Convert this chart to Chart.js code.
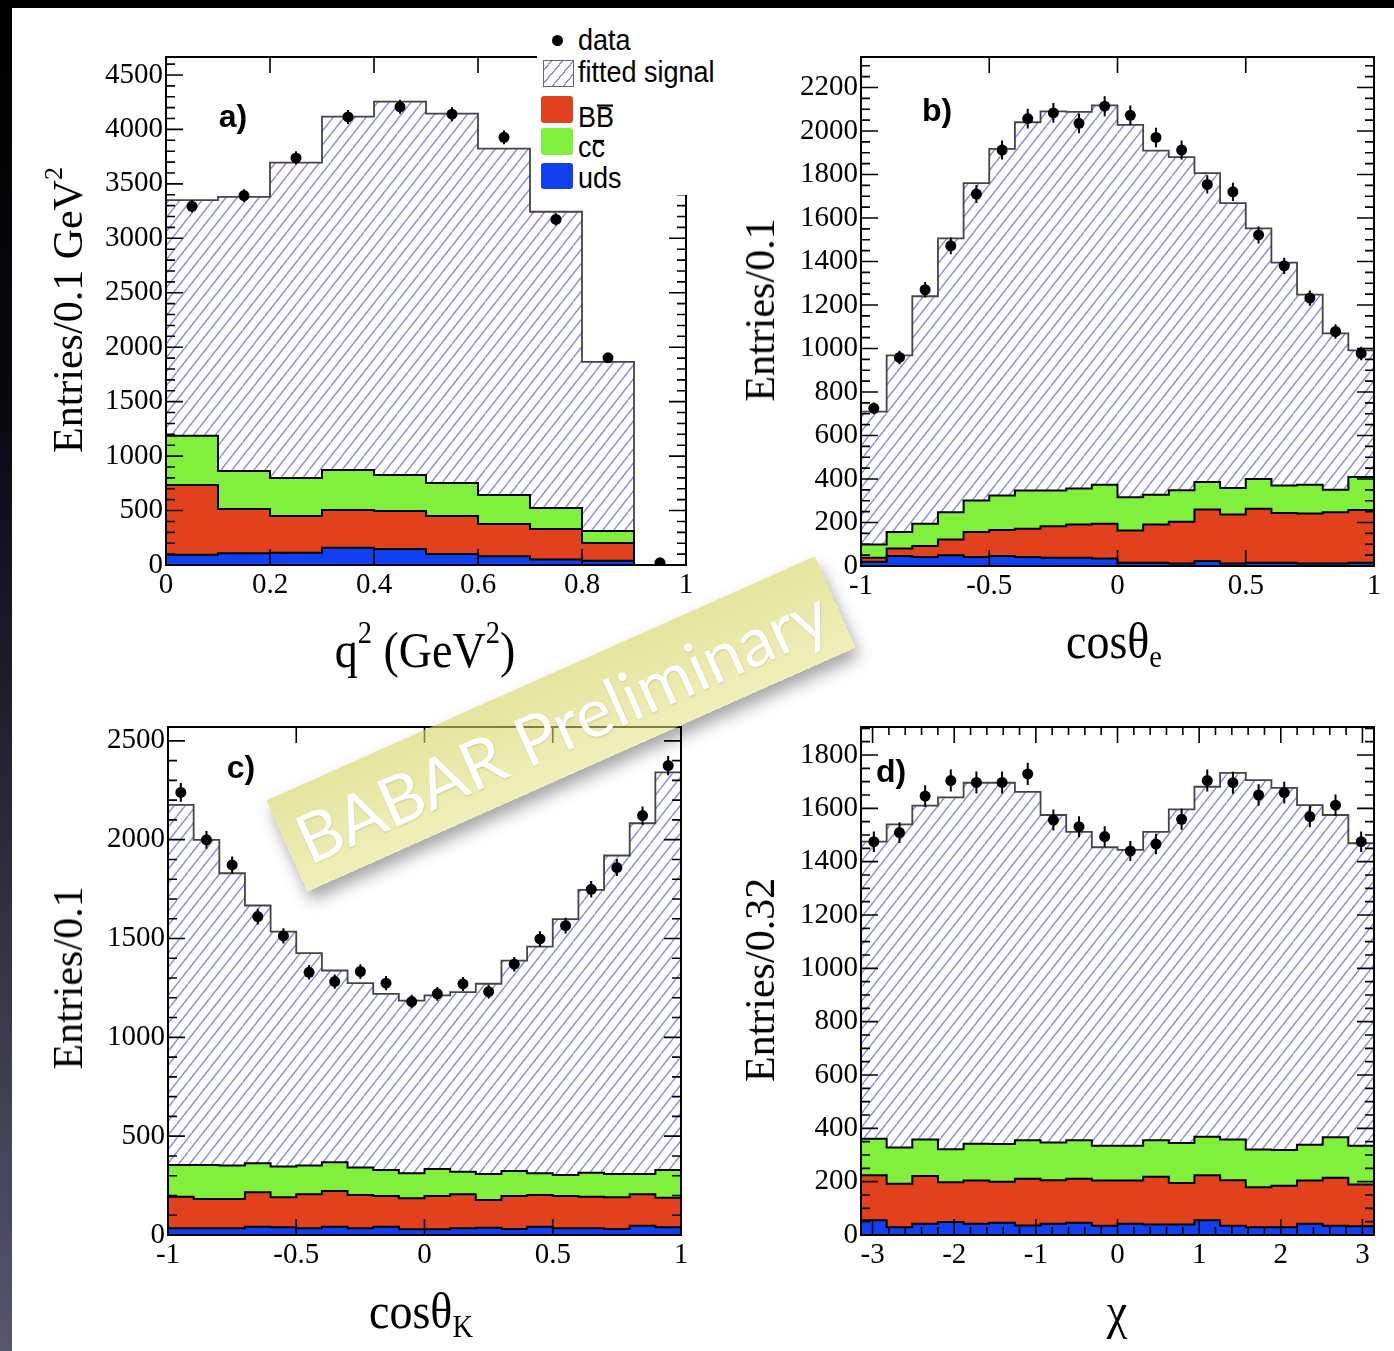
<!DOCTYPE html>
<html>
<head>
<meta charset="utf-8">
<title>BABAR fit projections</title>
<script src="https://cdn.jsdelivr.net/npm/chart.js@4.4.1/dist/chart.umd.min.js"></script>
<style>
  html, body { margin: 0; padding: 0; background: #fff; }
  body { position: relative; width: 1394px; height: 1351px; overflow: hidden; }
  #topBar { position: absolute; left: 0; top: 0; width: 1394px; height: 8px; background: #000; }
  #leftBar { position: absolute; left: 0; top: 0; width: 12px; height: 1351px;
             background: linear-gradient(to bottom, #000 0%, #08080f 30%, #2a2a3a 62%, #56566c 100%); }
  canvas { position: absolute; }
  .lbl { position: absolute; white-space: nowrap; line-height: 1; color: #000; }
  .serif { font-family: "Liberation Serif", "Times New Roman", serif; }
  .ytitle { font-size: 42px; transform: translate(-50%, -50%) rotate(-90deg); }
  .xtitle { font-size: 46px; transform: translate(-50%, -50%) scaleY(1.12); }
  .tag { font-family: "Liberation Sans", Arial, sans-serif; font-weight: bold; font-size: 32px;
         transform: translate(-50%, -50%); }
  sup { font-size: 0.62em; vertical-align: 0.75em; line-height: 0; }
  sub { font-size: 0.62em; vertical-align: -0.3em; line-height: 0; }

  #legend { position: absolute; left: 537px; top: 20px; width: 195px; height: 175px; background: #fff;
            font-family: "Liberation Sans", Arial, sans-serif; font-size: 27px; color: #000; }
  #legend .li { position: absolute; left: 41px; transform: translateY(-50%) scaleY(1.08); line-height: 1; white-space: nowrap; }
  #legend .box { position: absolute; left: 4px; width: 32px; border-radius: 3px; }
  #legend .ov { position: relative; display: inline-block; }
  #legend .ov::before { content: ''; position: absolute; left: 1px; right: 1px; height: 2px; background: #000; }
  #legend .ovB::before { top: 1px; }
  #legend .ovc::before { top: 6px; }
  #dot { position: absolute; left: 15px; top: 15px; width: 11px; height: 11px; border-radius: 50%; background: #000; }
  #hatchBox { position: absolute; left: 6px; top: 40px; width: 29px; height: 25px; border: 1px solid #666;
              background: repeating-linear-gradient(130deg, #fff 0 5px, #8c8ce4 5px 6.4px, #fff 6.4px 8.4px); }

  #banner { position: absolute; left: 561px; top: 724px; width: 600px; height: 100px;
            transform: translate(-50%, -50%) rotate(-24deg);
            background: linear-gradient(to bottom, rgba(214, 211, 96, 0.62), rgba(228, 225, 128, 0.55));
            box-shadow: 0 10px 16px rgba(0, 0, 0, 0.35);
            display: flex; align-items: center; justify-content: center;
            font-family: Lato, "Open Sans", sans-serif; font-size: 68px; color: #fff;
            text-shadow: 0 1px 2px rgba(0, 0, 0, 0.15); white-space: nowrap; }
</style>
</head>
<body>
<div id="topBar"></div>
<div id="leftBar"></div>

<canvas id="pa"></canvas>
<canvas id="pb"></canvas>
<canvas id="pc"></canvas>
<canvas id="pd"></canvas>

<div class="lbl serif ytitle" style="left:68px; top:310px;">Entries/0.1 GeV<sup>2</sup></div>
<div class="lbl serif xtitle" style="left:425px; top:650px;">q<sup>2</sup> (GeV<sup>2</sup>)</div>
<div class="lbl serif ytitle" style="left:760px; top:310px;">Entries/0.1</div>
<div class="lbl serif xtitle" style="left:1114px; top:641px;">cosθ<sub>e</sub></div>
<div class="lbl serif ytitle" style="left:68px; top:978px;">Entries/0.1</div>
<div class="lbl serif xtitle" style="left:421px; top:1311px;">cosθ<sub>K</sub></div>
<div class="lbl serif ytitle" style="left:760px; top:980px;">Entries/0.32</div>
<div class="lbl serif xtitle" style="left:1117px; top:1311px;">χ</div>

<div class="lbl tag" style="left:233px; top:116px;">a)</div>
<div class="lbl tag" style="left:937px; top:110px;">b)</div>
<div class="lbl tag" style="left:241px; top:767px;">c)</div>
<div class="lbl tag" style="left:891px; top:771px;">d)</div>

<div id="legend">
  <div id="dot"></div>
  <div class="li" style="top:21px;">data</div>
  <div id="hatchBox"></div>
  <div class="li" style="top:53px;">fitted signal</div>
  <div class="box" style="top:76px; height:27px; background:#e2411e;"></div>
  <div class="li" style="top:98px;">B<span class="ov ovB">B</span></div>
  <div class="box" style="top:108px; height:27px; background:#80f03c;"></div>
  <div class="li" style="top:128px;">c<span class="ov ovc">c</span></div>
  <div class="box" style="top:143px; height:26px; background:#1040f0;"></div>
  <div class="li" style="top:159px;">uds</div>
</div>

<div id="banner">BABAR Preliminary</div>

<script>
// --- colours ---
const BLUE = '#1040f0', RED = '#e2411e', GREEN = '#80f03c';
const TICK_FONT = { family: 'Liberation Serif', size: 29 };

// --- a) q2 ---
const edgesA = [0, 0.1, 0.2, 0.3, 0.4, 0.5, 0.6, 0.7, 0.8, 0.9, 1.0];
const dataA = [3294, 3392, 3738, 4115, 4208, 4140, 3927, 3173, 1903, 20];
const sigA  = [2164, 2516, 2895, 3245, 3428, 3391, 3180, 2720, 1554, 0];
const ccA   = [451, 349, 350, 368, 331, 304, 266, 193, 110, 0];
const bbA   = [640, 407, 338, 347, 349, 350, 297, 281, 164, 0];
const udsA  = [95, 108, 112, 158, 147, 100, 80, 50, 38, 0];
const xTicksA = [0, 0.2, 0.4, 0.6, 0.8, 1];
const yTicksA = [0, 500, 1000, 1500, 2000, 2500, 3000, 3500, 4000, 4500];

// --- b) cos theta_e ---
const edgesB = [-1, -0.9, -0.8, -0.7, -0.6, -0.5, -0.4, -0.3, -0.2, -0.1, 0,
                0.1, 0.2, 0.3, 0.4, 0.5, 0.6, 0.7, 0.8, 0.9, 1];
const dataB = [725, 959, 1270, 1472, 1710, 1912, 2057, 2083, 2035, 2114,
               2072, 1970, 1912, 1754, 1720, 1522, 1380, 1232, 1078, 977];
const sigB  = [611, 812, 1046, 1259, 1459, 1594, 1693, 1743, 1732, 1744,
               1712, 1582, 1532, 1420, 1309, 1152, 1025, 874, 718, 582];
const ccB   = [61, 75, 102, 125, 145, 159, 176, 164, 165, 180,
               153, 137, 145, 126, 122, 137, 126, 133, 104, 152];
const bbB   = [18, 35, 51, 73, 115, 119, 130, 145, 153, 159,
               148, 176, 192, 237, 226, 248, 229, 230, 236, 242];
const udsB  = [20, 46, 41, 49, 41, 46, 41, 38, 38, 35,
               15, 15, 11, 23, 11, 15, 15, 11, 11, 15];
const xTicksB = [-1, -0.5, 0, 0.5, 1];
const yTicksB = [0, 200, 400, 600, 800, 1000, 1200, 1400, 1600, 1800, 2000, 2200];

// --- c) cos theta_K ---
const edgesC = edgesB;
const dataC = [2239, 1999, 1872, 1611, 1513, 1329, 1282, 1333, 1274, 1181,
               1220, 1270, 1231, 1370, 1498, 1565, 1749, 1859, 2122, 2375];
const sigC  = [1822, 1645, 1479, 1304, 1189, 1075, 970, 933, 891, 874,
               878, 909, 962, 1064, 1147, 1294, 1431, 1611, 1774, 2011];
const ccC   = [160, 172, 169, 147, 155, 145, 145, 139, 132, 126,
               137, 114, 132, 127, 110, 107, 121, 118, 103, 140];
const bbC   = [160, 148, 148, 174, 152, 172, 181, 168, 155, 157,
               168, 172, 140, 167, 160, 163, 160, 161, 159, 150];
const udsC  = [34, 34, 34, 42, 39, 34, 42, 34, 42, 29,
               29, 34, 37, 30, 42, 34, 34, 30, 47, 39];
const xTicksC = [-1, -0.5, 0, 0.5, 1];
const yTicksC = [0, 500, 1000, 1500, 2000, 2500];

// --- d) chi ---
const edgesD = [-3.1416, -2.8274, -2.5133, -2.1991, -1.8850, -1.5708, -1.2566, -0.9425, -0.6283, -0.3142, 0,
                0.3142, 0.6283, 0.9425, 1.2566, 1.5708, 1.8850, 2.1991, 2.5133, 2.8274, 3.1416];
const dataD = [1475, 1509, 1646, 1704, 1697, 1697, 1729, 1556, 1531, 1494,
               1440, 1466, 1559, 1704, 1696, 1650, 1659, 1569, 1612, 1475];
const sigD  = [1114, 1212, 1252, 1319, 1354, 1355, 1307, 1228, 1157, 1119,
               1109, 1157, 1251, 1313, 1375, 1385, 1358, 1274, 1208, 1134];
const ccD   = [137, 136, 137, 124, 138, 141, 144, 142, 144, 131,
               131, 137, 150, 144, 153, 142, 134, 134, 152, 146];
const bbD   = [169, 163, 179, 149, 162, 154, 175, 163, 165, 169,
               162, 179, 156, 169, 170, 150, 156, 162, 180, 156];
const udsD  = [55, 29, 42, 49, 42, 46, 36, 42, 46, 35,
               42, 39, 39, 55, 35, 29, 29, 42, 35, 33];
const xTicksD = [-3, -2, -1, 0, 1, 2, 3];
const yTicksD = [0, 200, 400, 600, 800, 1000, 1200, 1400, 1600, 1800];

// box = canvas [x, y, w, h], frame = plot area [left, top, right, bottom] in page pixels
const panels = [
  { id: 'pa', box: [12, 8, 764, 682], frame: [166, 57, 686, 565], yMax: 4665,
    edges: edgesA, data: dataA, sig: sigA, cc: ccA, bb: bbA, uds: udsA,
    xTicks: xTicksA, yTicks: yTicksA, yMinor: 100, xMinor: 0 },
  { id: 'pb', box: [776, 8, 618, 682], frame: [861, 57, 1374, 566], yMax: 2340,
    edges: edgesB, data: dataB, sig: sigB, cc: ccB, bb: bbB, uds: udsB,
    xTicks: xTicksB, yTicks: yTicksB, yMinor: 50, xMinor: 0 },
  { id: 'pc', box: [12, 690, 764, 661], frame: [168, 727, 681, 1235], yMax: 2570,
    edges: edgesC, data: dataC, sig: sigC, cc: ccC, bb: bbC, uds: udsC,
    xTicks: xTicksC, yTicks: yTicksC, yMinor: 100, xMinor: 0 },
  { id: 'pd', box: [776, 690, 618, 661], frame: [861, 727, 1374, 1235], yMax: 1905,
    edges: edgesD, data: dataD, sig: sigD, cc: ccD, bb: bbD, uds: udsD,
    xTicks: xTicksD, yTicks: yTicksD, yMinor: 50, xMinor: 0.2 }
];

function hatchTile() {
  const c = document.createElement('canvas');
  const w = 11, h = 14;
  c.width = w; c.height = h;
  const g = c.getContext('2d');
  g.strokeStyle = '#8c8ce4';
  g.lineWidth = 1.4;
  g.beginPath();
  for (const dx of [-w, 0, w]) { g.moveTo(dx, h); g.lineTo(dx + w, 0); }
  g.stroke();
  return c;
}

// histogram outline as points on the bin edges (stepped line)
function steps(edges, vals) {
  const pts = vals.map((v, i) => ({ x: edges[i], y: v }));
  pts.push({ x: edges[edges.length - 1], y: vals[vals.length - 1] });
  return pts;
}

function minors(min, max, step, majors) {
  if (!step) return [];
  const out = [];
  for (let k = Math.ceil(min / step); k * step <= max + 1e-9; k++) {
    const v = k * step;
    if (!majors.some(m => Math.abs(m - v) < step / 10)) out.push(v);
  }
  return out;
}

// ROOT-like frame with inward ticks on all four sides
const rootAxes = {
  id: 'rootAxes',
  afterDraw(chart, args, o) {
    const { ctx, chartArea: a, scales: { x, y } } = chart;
    ctx.save();
    ctx.strokeStyle = '#000';
    ctx.lineWidth = 1.6;
    ctx.beginPath();
    const yTick = (v, len) => {
      const py = y.getPixelForValue(v);
      ctx.moveTo(a.left, py); ctx.lineTo(a.left + len, py);
      ctx.moveTo(a.right, py); ctx.lineTo(a.right - len, py);
    };
    const xTick = (v, len) => {
      const px = x.getPixelForValue(v);
      ctx.moveTo(px, a.bottom); ctx.lineTo(px, a.bottom - len);
      ctx.moveTo(px, a.top); ctx.lineTo(px, a.top + len);
    };
    o.yTicks.forEach(v => yTick(v, 17));
    minors(y.min, y.max, o.yMinor, o.yTicks).forEach(v => yTick(v, 9));
    o.xTicks.forEach(v => xTick(v, 16));
    minors(x.min, x.max, o.xMinor, o.xTicks).forEach(v => xTick(v, 8));
    ctx.stroke();
    ctx.lineWidth = 2;
    ctx.strokeRect(a.left, a.top, a.right - a.left, a.bottom - a.top);
    ctx.restore();
  }
};

// sqrt(N) error bars on the data points
const errorBars = {
  id: 'errorBars',
  afterDatasetsDraw(chart) {
    const { ctx, scales: { x, y } } = chart;
    ctx.save();
    ctx.strokeStyle = '#000';
    ctx.lineWidth = 2;
    ctx.beginPath();
    chart.data.datasets[0].data.forEach(p => {
      const e = Math.sqrt(Math.max(p.y, 0));
      const px = x.getPixelForValue(p.x);
      ctx.moveTo(px, y.getPixelForValue(p.y - e));
      ctx.lineTo(px, y.getPixelForValue(p.y + e));
    });
    ctx.stroke();
    ctx.restore();
  }
};

function buildChart(p) {
  const cv = document.getElementById(p.id);
  const [bx, by, bw, bh] = p.box;
  const [fl, ft, fr, fb] = p.frame;
  cv.width = bw; cv.height = bh;
  cv.style.left = bx + 'px'; cv.style.top = by + 'px';
  cv.style.width = bw + 'px'; cv.style.height = bh + 'px';
  const ctx = cv.getContext('2d');
  const hatch = ctx.createPattern(hatchTile(), 'repeat');

  const cum1 = p.uds;
  const cum2 = cum1.map((v, i) => v + p.bb[i]);
  const cum3 = cum2.map((v, i) => v + p.cc[i]);
  const cum4 = cum3.map((v, i) => v + p.sig[i]);
  const centers = p.edges.slice(0, -1).map((e, i) => (e + p.edges[i + 1]) / 2);

  const step = (vals, fillColor, fill, lineColor, lw) => ({
    data: steps(p.edges, vals), stepped: true, fill,
    backgroundColor: fillColor, borderColor: lineColor, borderWidth: lw,
    pointRadius: 0, pointHoverRadius: 0
  });

  new Chart(ctx, {
    type: 'line',
    data: {
      datasets: [
        { data: centers.map((cx, i) => ({ x: cx, y: p.data[i] })), showLine: false,
          pointRadius: 5.5, pointHoverRadius: 5.5, pointBackgroundColor: '#000', pointBorderWidth: 0 },
        step(cum1, BLUE, 'origin', '#000', 2),
        step(cum2, RED, 1, '#000', 2),
        step(cum3, GREEN, 2, '#000', 2),
        step(cum4, hatch, 3, '#444', 1.8)
      ]
    },
    options: {
      responsive: false,
      animation: false,
      events: [],
      layout: { padding: { left: 0, top: ft - by, right: bx + bw - fr, bottom: 0 } },
      plugins: {
        legend: { display: false },
        tooltip: { enabled: false },
        rootAxes: { xTicks: p.xTicks, yTicks: p.yTicks, xMinor: p.xMinor, yMinor: p.yMinor }
      },
      scales: {
        x: {
          type: 'linear', min: p.edges[0], max: p.edges[p.edges.length - 1],
          afterFit: s => { s.height = by + bh - fb; },
          afterBuildTicks: s => { s.ticks = p.xTicks.map(v => ({ value: v })); },
          grid: { display: false, drawTicks: false },
          border: { display: false },
          ticks: { font: TICK_FONT, color: '#000', padding: 3, maxRotation: 0, autoSkip: false,
                   callback: v => String(v) }
        },
        y: {
          type: 'linear', min: 0, max: p.yMax,
          afterFit: s => { s.width = fl - bx; },
          afterBuildTicks: s => { s.ticks = p.yTicks.map(v => ({ value: v })); },
          grid: { display: false, drawTicks: false },
          border: { display: false },
          ticks: { font: TICK_FONT, color: '#000', padding: 3, autoSkip: false,
                   callback: v => String(v) }
        }
      }
    },
    plugins: [errorBars, rootAxes]
  });
}

panels.forEach(buildChart);
</script>
</body>
</html>
